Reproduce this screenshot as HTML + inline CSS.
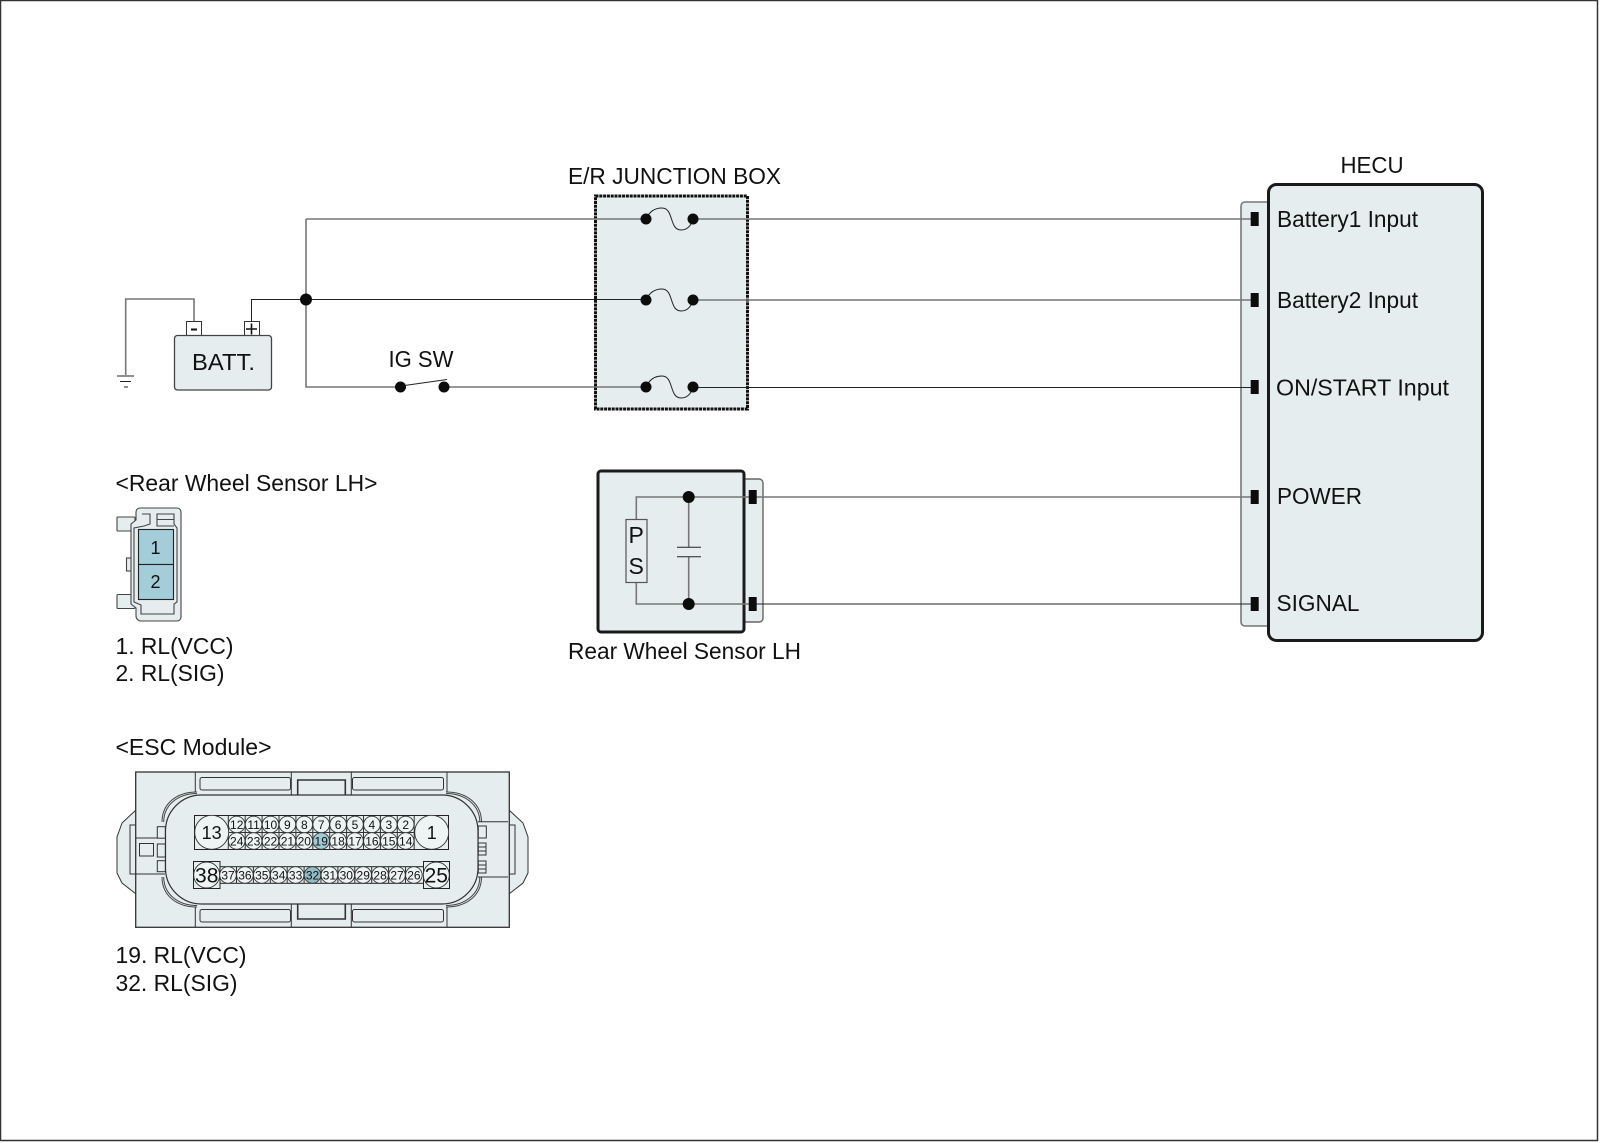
<!DOCTYPE html>
<html><head><meta charset="utf-8"><style>
html,body{margin:0;padding:0;background:#fff}
svg{display:block}
text{font-family:"Liberation Sans",sans-serif;fill:#111}
.l{font-size:23px}
.s{font-size:12px;text-anchor:middle}
.g{stroke:#777;stroke-width:1.6;fill:none}
.k{stroke:#222;stroke-width:1;fill:none}
.t{stroke:#333;stroke-width:1;fill:none}
</style></head><body>
<svg width="1600" height="1143" viewBox="0 0 1600 1143" xmlns="http://www.w3.org/2000/svg">
<rect width="1600" height="1143" fill="#fff"/>
<rect x="0.5" y="0.5" width="1597" height="1140" fill="none" stroke="#333" stroke-width="1.5"/>

<!-- Junction box -->
<rect x="595.5" y="196" width="152" height="213" fill="#e5edee" stroke="#111" stroke-width="3" stroke-dasharray="3 0.8"/>
<!-- HECU back -->
<path d="M1268 202H1245a4 4 0 0 0-4 4V622a4 4 0 0 0 4 4H1268" fill="#e5edee" stroke="#777" stroke-width="1.6"/>
<rect x="1268.5" y="184.5" width="214" height="456" rx="8" fill="#e5edee" stroke="#1a1a1a" stroke-width="3"/>
<!-- Sensor -->
<path d="M743 479H759a4 4 0 0 1 4 4V618a4 4 0 0 1-4 4H743Z" fill="#e5edee" stroke="#666" stroke-width="1.4"/>
<rect x="598" y="471" width="146" height="161" rx="3" fill="#e5edee" stroke="#1a1a1a" stroke-width="3"/>

<!-- Wires -->
<path class="g" d="M306 219H646M693 219H1251M306 219V387H400M444 387H646M693 300H1251M756 497H1251"/>
<path class="k" d="M251.5 321V299.5H646M693 387.500H1251M756 604H1251"/>
<path class="g" d="M194 321V299H125.700V375M636.300 519V497H749M636.300 583V604H749M688.700 497V547M688.700 557V604"/>
<path class="k" d="M117 376H134M120 381.500H131M124 387H128"/>
<path class="k" stroke-width="1.2" d="M677 547.300H701M677 556.700H701"/>
<path class="k" d="M401 386L447 379.500"/>

<!-- Fuses -->
<g class="k" stroke-width="1.2">
<path d="M646 219C650 210 656 208 662 208C674 208 669 230 681 230C687 230 691 226 693 219"/>
<path d="M646 300C650 291 656 289 662 289C674 289 669 311 681 311C687 311 691 307 693 300"/>
<path d="M646 387C650 378 656 376 662 376C674 376 669 398 681 398C687 398 691 394 693 387"/>
</g>
<g fill="#0c0c0c">
<circle cx="646" cy="219" r="5.500"/><circle cx="693" cy="219" r="5.500"/>
<circle cx="646" cy="300" r="5.500"/><circle cx="693" cy="300" r="5.500"/>
<circle cx="646" cy="387" r="5.500"/><circle cx="693" cy="387" r="5.500"/>
<circle cx="306" cy="299.500" r="6"/>
<circle cx="400.500" cy="387" r="5.500"/><circle cx="444" cy="387" r="5.500"/>
<circle cx="688.700" cy="497" r="6"/><circle cx="688.700" cy="604" r="6"/>
<rect x="1250.700" y="212" width="8" height="14"/>
<rect x="1250.700" y="293" width="8" height="14"/>
<rect x="1250.700" y="380" width="8" height="14"/>
<rect x="1250.700" y="490" width="8" height="14"/>
<rect x="1250.700" y="597" width="8" height="14"/>
<rect x="748.700" y="490" width="8" height="14"/>
<rect x="748.700" y="597" width="8" height="14"/>
</g>

<!-- PS -->
<rect x="626" y="519.500" width="21" height="63" fill="#e5edee" stroke="#555" stroke-width="1.2"/>
<text class="l" x="628.500" y="543">P</text>
<text class="l" x="628.500" y="574">S</text>

<!-- Battery -->
<rect x="186.500" y="321.500" width="15" height="14" fill="#fff" stroke="#333"/>
<rect x="244.500" y="321.500" width="15" height="14" fill="#fff" stroke="#333"/>
<path d="M191 329.500H197" stroke="#111" stroke-width="2"/>
<path d="M246 329H257M251.500 323.500V334.500" stroke="#111" stroke-width="1.600"/>
<rect x="174.500" y="335.500" width="97" height="54.500" rx="3" fill="#e5edee" stroke="#444" stroke-width="1.300"/>
<text class="l" x="192" y="370" textLength="63" lengthAdjust="spacingAndGlyphs">BATT.</text>

<!-- Labels -->
<text class="l" x="388.500" y="367" textLength="65" lengthAdjust="spacingAndGlyphs">IG SW</text>
<text class="l" x="568" y="184" textLength="213" lengthAdjust="spacingAndGlyphs">E/R JUNCTION BOX</text>
<text class="l" x="1340.500" y="173" textLength="63" lengthAdjust="spacingAndGlyphs">HECU</text>
<text class="l" x="1277" y="227" textLength="141" lengthAdjust="spacingAndGlyphs">Battery1 Input</text>
<text class="l" x="1277" y="308" textLength="141" lengthAdjust="spacingAndGlyphs">Battery2 Input</text>
<text class="l" x="1276" y="395.500" textLength="173" lengthAdjust="spacingAndGlyphs">ON/START Input</text>
<text class="l" x="1277" y="504" textLength="85" lengthAdjust="spacingAndGlyphs">POWER</text>
<text class="l" x="1276.500" y="611" textLength="83" lengthAdjust="spacingAndGlyphs">SIGNAL</text>
<text class="l" x="568" y="659" textLength="233" lengthAdjust="spacingAndGlyphs">Rear Wheel Sensor LH</text>
<text class="l" x="115.500" y="491" textLength="262" lengthAdjust="spacingAndGlyphs">&lt;Rear Wheel Sensor LH&gt;</text>
<text class="l" x="115.500" y="654" textLength="118" lengthAdjust="spacingAndGlyphs">1. RL(VCC)</text>
<text class="l" x="115.500" y="681" textLength="109" lengthAdjust="spacingAndGlyphs">2. RL(SIG)</text>
<text class="l" x="115.500" y="755" textLength="156" lengthAdjust="spacingAndGlyphs">&lt;ESC Module&gt;</text>
<text class="l" x="115.500" y="963" textLength="131" lengthAdjust="spacingAndGlyphs">19. RL(VCC)</text>
<text class="l" x="115.500" y="991" textLength="122" lengthAdjust="spacingAndGlyphs">32. RL(SIG)</text>

<!-- 2-pin connector -->
<g stroke="#444" stroke-width="1.100" fill="#e5edee">
<rect x="117" y="517" width="18" height="14" rx="1"/>
<rect x="117" y="594.500" width="18" height="14" rx="1"/>
<rect x="126.500" y="558" width="8" height="13"/>
<path d="M140 508H177a4 4 0 0 1 4 4V617a4 4 0 0 1-4 4H141a5 5 0 0 1-5-5V608L131 604V524L136 520V512a4 4 0 0 1 4-4Z"/>
<path fill="none" d="M142 514H150V524L144 526L134 528V602L141 605V614H174V604L177 602V528L174 524V514H157V526H174M157 519.500H174"/>
</g>
<rect x="138.500" y="529.500" width="35" height="35" fill="#a3cdd9" stroke="#222" stroke-width="1.100"/>
<rect x="138.500" y="564.500" width="35" height="35" fill="#a3cdd9" stroke="#222" stroke-width="1.100"/>
<text x="155.500" y="554" font-size="18" text-anchor="middle">1</text>
<text x="155.500" y="588" font-size="18" text-anchor="middle">2</text>

<!-- ESC connector -->
<g stroke="#333" stroke-width="1" fill="#e5edee">
<path d="M136 810L122 823L117 837V873L122 883L136 894Z"/>
<path d="M509 810L523 823L528 837V873L523 883L509 894Z"/>
<rect x="130" y="825" width="6" height="49"/>
<rect x="509" y="825" width="6" height="49"/>
<rect x="135.700" y="772" width="373.600" height="155.300" stroke-width="1.300"/>
</g>
<!-- oval body -->
<rect x="165.500" y="795" width="312.500" height="109" rx="36" fill="#e5edee" stroke="#333" stroke-width="1.200"/>
<g fill="none" stroke="#444" stroke-width="1">
<path d="M162 822C162 804 176 792 197 792M163.700 822C163.700 805 178 793.500 197 793.500"/>
<path d="M481.500 822C481.500 804 467 792 446 792M479.800 822C479.800 805 465 793.500 446 793.500"/>
<path d="M162 877C162 895 176 907 197 907M163.700 877C163.700 894 178 905.500 197 905.500"/>
<path d="M481.500 877C481.500 895 467 907 446 907M479.800 877C479.800 894 465 905.500 446 905.500"/>
</g>
<g class="t">
<path d="M195.300 772V792M447 772V792M195.300 907V927M447 907V927M291.300 772V795M351.300 772V795M291.300 904V927M351.300 904V927"/>
<rect x="200" y="777.500" width="90.500" height="12.500" rx="2"/>
<rect x="352.500" y="777.500" width="91" height="12.500" rx="2"/>
<rect x="200" y="909.500" width="90.500" height="12.500" rx="2"/>
<rect x="352.500" y="909.500" width="91" height="12.500" rx="2"/>
<path stroke-width="1.600" d="M297.700 795V780H345.300V795M297.700 904V919H345.300V904"/>
<path d="M136 838H165M136 874H165M478 821.700H508M478 877H508"/>
<rect x="139.500" y="843.500" width="14" height="12.500"/>
<rect x="157.300" y="826.700" width="8" height="11.500" fill="#e5edee"/>
<rect x="157.300" y="844" width="8" height="13" fill="#e5edee"/>
<rect x="157.300" y="860.700" width="8" height="11" fill="#e5edee"/>
<rect x="478.300" y="826" width="8" height="12" fill="#e5edee"/>
<path fill="#e5edee" d="M478.300 843H486V855H478.300ZM478.300 847H486M478.300 851H486M478.300 861H486V873H478.300ZM478.300 865H486M478.300 869H486"/>
</g>

<!-- Row 1 -->
<rect x="194.500" y="815.500" width="254" height="34" fill="#e5edee" stroke="#222" stroke-width="1"/>
<path stroke="#333" fill="none" d="M228.300 815.500V849.500M245.200 815.500V849.500M262.100 815.500V849.500M279 815.500V849.500M295.900 815.500V849.500M312.800 815.500V849.500M329.700 815.500V849.500M346.600 815.500V849.500M363.500 815.500V849.500M380.400 815.500V849.500M397.300 815.500V849.500M414.200 815.500V849.500M228.300 832.500H414.200"/>
<g fill="#eef3f3" stroke="#333" stroke-width="0.900">
<circle cx="211.700" cy="832.300" r="17"/><circle cx="431.700" cy="832.300" r="17"/>
<circle cx="236.700" cy="824.500" r="8.300"/><circle cx="253.600" cy="824.500" r="8.300"/><circle cx="270.500" cy="824.500" r="8.300"/><circle cx="287.400" cy="824.500" r="8.300"/><circle cx="304.300" cy="824.500" r="8.300"/><circle cx="321.200" cy="824.500" r="8.300"/><circle cx="338.100" cy="824.500" r="8.300"/><circle cx="355" cy="824.500" r="8.300"/><circle cx="371.900" cy="824.500" r="8.300"/><circle cx="388.800" cy="824.500" r="8.300"/><circle cx="405.700" cy="824.500" r="8.300"/>
<circle cx="236.700" cy="841" r="8.300"/><circle cx="253.600" cy="841" r="8.300"/><circle cx="270.500" cy="841" r="8.300"/><circle cx="287.400" cy="841" r="8.300"/><circle cx="304.300" cy="841" r="8.300"/><circle cx="321.200" cy="841" r="8.300" fill="#9fcad6"/><circle cx="338.100" cy="841" r="8.300"/><circle cx="355" cy="841" r="8.300"/><circle cx="371.900" cy="841" r="8.300"/><circle cx="388.800" cy="841" r="8.300"/><circle cx="405.700" cy="841" r="8.300"/>
</g>
<text x="211.700" y="838.800" font-size="18" text-anchor="middle">13</text>
<text x="431.700" y="838.800" font-size="18" text-anchor="middle">1</text>
<g class="s">
<text x="236.700" y="829" class="s">12</text><text x="253.600" y="829" class="s">11</text><text x="270.500" y="829" class="s">10</text><text x="287.400" y="829" class="s">9</text><text x="304.300" y="829" class="s">8</text><text x="321.200" y="829" class="s">7</text><text x="338.100" y="829" class="s">6</text><text x="355" y="829" class="s">5</text><text x="371.900" y="829" class="s">4</text><text x="388.800" y="829" class="s">3</text><text x="405.700" y="829" class="s">2</text>
<text x="236.700" y="845.500" class="s">24</text><text x="253.600" y="845.500" class="s">23</text><text x="270.500" y="845.500" class="s">22</text><text x="287.400" y="845.500" class="s">21</text><text x="304.300" y="845.500" class="s">20</text><text x="321.200" y="845.500" class="s">19</text><text x="338.100" y="845.500" class="s">18</text><text x="355" y="845.500" class="s">17</text><text x="371.900" y="845.500" class="s">16</text><text x="388.800" y="845.500" class="s">15</text><text x="405.700" y="845.500" class="s">14</text>
</g>

<!-- Row 2 -->
<rect x="220" y="866.700" width="203.500" height="16.600" fill="#e5edee" stroke="#222" stroke-width="1"/>
<path stroke="#333" fill="none" d="M236.500 866.700V883.300M253.400 866.700V883.300M270.300 866.700V883.300M287.200 866.700V883.300M304.100 866.700V883.300M321 866.700V883.300M337.900 866.700V883.300M354.800 866.700V883.300M371.700 866.700V883.300M388.600 866.700V883.300M405.500 866.700V883.300"/>
<rect x="193.500" y="861.500" width="26.500" height="27" fill="#e5edee" stroke="#222" stroke-width="1"/>
<rect x="423.500" y="861.500" width="26" height="27" fill="#e5edee" stroke="#222" stroke-width="1"/>
<g fill="#eef3f3" stroke="#333" stroke-width="0.900">
<circle cx="206.700" cy="875" r="13"/><circle cx="436.300" cy="875" r="13"/>
<circle cx="228" cy="875" r="8.300"/><circle cx="244.900" cy="875" r="8.300"/><circle cx="261.800" cy="875" r="8.300"/><circle cx="278.700" cy="875" r="8.300"/><circle cx="295.600" cy="875" r="8.300"/><circle cx="312.500" cy="875" r="8.300" fill="#8fbac6"/><circle cx="329.400" cy="875" r="8.300"/><circle cx="346.300" cy="875" r="8.300"/><circle cx="363.200" cy="875" r="8.300"/><circle cx="380.100" cy="875" r="8.300"/><circle cx="397" cy="875" r="8.300"/><circle cx="413.900" cy="875" r="8.300"/>
</g>
<text x="206.700" y="882.500" font-size="21" text-anchor="middle">38</text>
<text x="436.300" y="882.500" font-size="21" text-anchor="middle">25</text>
<text x="228" y="879.500" class="s">37</text><text x="244.900" y="879.500" class="s">36</text><text x="261.800" y="879.500" class="s">35</text><text x="278.700" y="879.500" class="s">34</text><text x="295.600" y="879.500" class="s">33</text><text x="312.500" y="879.500" class="s">32</text><text x="329.400" y="879.500" class="s">31</text><text x="346.300" y="879.500" class="s">30</text><text x="363.200" y="879.500" class="s">29</text><text x="380.100" y="879.500" class="s">28</text><text x="397" y="879.500" class="s">27</text><text x="413.900" y="879.500" class="s">26</text>
</svg>
</body></html>
